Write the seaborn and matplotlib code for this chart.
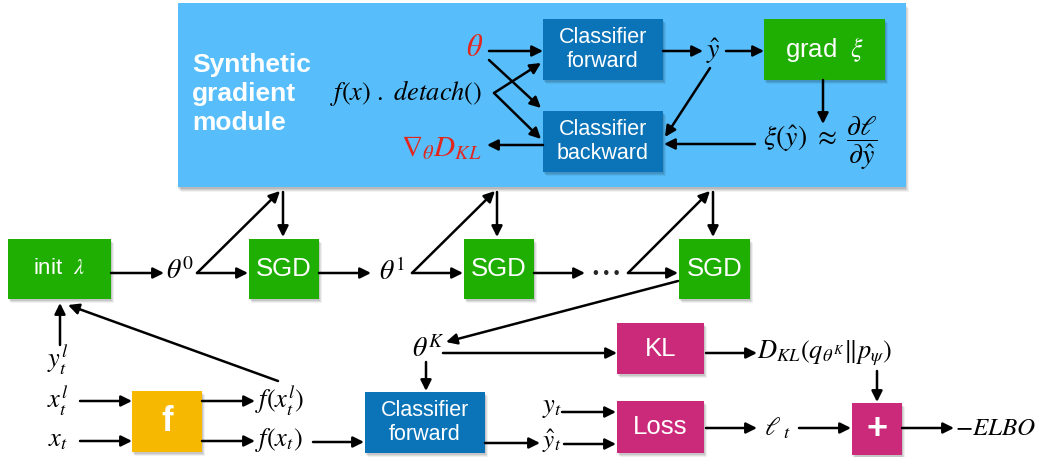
import matplotlib
matplotlib.use("Agg")
import matplotlib.pyplot as plt
import seaborn as sns
from matplotlib.patches import Rectangle

sns.set_style("white")
plt.rcParams['font.family'] = ['Liberation Sans', 'DejaVu Sans']
plt.rcParams['mathtext.fontset'] = 'stix'

# colours
panel_blue = '#58BEFB'
clf_blue = '#0B74B9'
green = '#1FAF02'
orange = '#F6B800'
magenta = '#CB2A7A'
red = '#E2261D'

# labels
module_title = "Synthetic\ngradient\nmodule"
clf_top = ["Classifier\nforward", "Classifier\nbackward"]
sgd_labels = ["SGD", "SGD", "SGD"]
theta_labels = [r'$\theta^0$', r'$\theta^1$', r'$\theta^K$']
input_labels = [r'$y_t^l$', r'$x_t^l$', r'$x_t$']
feat_labels = [r'$f(x_t^l)$', r'$f(x_t)$']
loss_inputs = [r'$y_t$', r'$\hat{y}_t$']

fig = plt.figure(figsize=(10.48, 4.57), dpi=100)
ax = fig.add_axes([0, 0, 1, 1])
ax.set_xlim(0, 1048)
ax.set_ylim(457, 0)
ax.axis('off')


def box(x0, y0, x1, y1, color, label, fs, weight='normal', shadow=True):
    if shadow:
        for d, a in [(4, 0.06), (3, 0.08), (2, 0.10)]:
            ax.add_patch(Rectangle((x0 + d - 1, y0 + d), x1 - x0, y1 - y0,
                                   facecolor='black', alpha=a, lw=0, zorder=1))
    ax.add_patch(Rectangle((x0, y0), x1 - x0, y1 - y0, facecolor=color,
                           lw=0, zorder=2))
    ax.text((x0 + x1) / 2, (y0 + y1) / 2, label, color='white', fontsize=fs,
            ha='center', va='center', weight=weight, zorder=3,
            linespacing=1.15)


def arrow(x0, y0, x1, y1):
    ax.annotate('', xy=(x1, y1), xytext=(x0, y0), zorder=4,
                arrowprops=dict(arrowstyle='-|>', color='black', lw=1.8,
                                mutation_scale=16, shrinkA=0, shrinkB=0))


def label(x, y, s, fs=18, color='black', ha='left'):
    ax.text(x, y, s, fontsize=fs, color=color, ha=ha, va='center', zorder=5)


# synthetic gradient panel
for d, a in [(5, 0.05), (4, 0.07), (3, 0.08), (2, 0.10)]:
    ax.add_patch(Rectangle((178 + d - 2, 3 + d), 728, 184, facecolor='black',
                           alpha=a, lw=0, zorder=0))
ax.add_patch(Rectangle((178, 3), 728, 184, facecolor=panel_blue, lw=0,
                       zorder=0.5))
ax.text(192, 94, module_title, color='white', fontsize=19, weight='bold',
        ha='left', va='center', linespacing=1.25)

box(543, 19, 663, 80, clf_blue, clf_top[0], 15.5)
box(543, 111, 663, 172, clf_blue, clf_top[1], 15.5)
box(764, 19, 885, 80, green, r'grad  $\xi$', 18.5)

label(483, 48, r'$\theta$', 22, red, 'right')
label(482, 93, r'$f(x)\ .\ detach()$', 19, 'black', 'right')
label(482, 148, r'$\nabla_{\theta}D_{KL}$', 21, red, 'right')
label(713, 51, r'$\hat{y}$', 20, 'black', 'center')
label(763, 143, r'$\xi(\hat{y})\ \approx\ \dfrac{\partial\ell}{\partial\hat{y}}$', 20)

arrow(489, 51, 543, 51)
arrow(489, 60, 541, 108)
arrow(494, 93, 541, 63)
arrow(494, 93, 541, 139)
arrow(543, 145, 487, 145)
arrow(663, 51, 703, 51)
arrow(726, 51, 764, 51)
arrow(710, 68, 665, 137)
arrow(823, 80, 823, 124)
arrow(755, 144, 664, 144)

# unrolled SGD chain
box(8, 239, 111, 299, green, r'init  $\lambda$', 16)
sgd_x = [(249, 319), (464, 534), (679, 750)]
for (a, b), s in zip(sgd_x, sgd_labels):
    box(a, 239, b, 299, green, s, 18.5)

label(180, 272, theta_labels[0], 20, ha='center')
label(392, 272, theta_labels[1], 20, ha='center')
ax.text(606, 273, '\u2022 \u2022 \u2022', fontsize=12, ha='center', va='center')

arrow(111, 273, 164, 273)
arrow(197, 273, 248, 273)
arrow(197, 273, 280, 191)
arrow(283, 192, 283, 237)
arrow(319, 273, 371, 273)
arrow(412, 273, 463, 273)
arrow(412, 273, 495, 191)
arrow(497, 192, 497, 237)
arrow(534, 273, 585, 273)
arrow(628, 273, 678, 273)
arrow(628, 273, 710, 191)
arrow(713, 192, 713, 237)

# theta^K and KL branch
label(428, 349, theta_labels[2], 20, ha='center')
arrow(678, 281, 446, 342)
arrow(443, 353, 617, 353)
box(617, 323, 704, 374, magenta, 'KL', 18.5)
arrow(706, 353, 757, 353)
label(757, 353, r'$D_{KL}(q_{\theta^K}\|p_{\psi})$', 19)
arrow(877, 371, 877, 402)

# input / feature extractor
label(58, 360, input_labels[0], 19, ha='center')
label(58, 401, input_labels[1], 19, ha='center')
label(58, 440, input_labels[2], 19, ha='center')
arrow(60, 345, 60, 303)
arrow(80, 401, 132, 401)
arrow(80, 441, 132, 441)
box(132, 391, 202, 452, orange, 'f', 25, 'bold')
arrow(202, 401, 255, 401)
arrow(202, 441, 255, 441)
label(255, 401, feat_labels[0], 19)
label(255, 440, feat_labels[1], 19)
arrow(278, 381, 68, 305)

# classifier + loss
arrow(426, 362, 426, 391)
arrow(313, 442, 364, 442)
box(365, 392, 485, 453, clf_blue, "Classifier\nforward", 15.5)
arrow(485, 443, 540, 443)
label(552, 408, loss_inputs[0], 19, ha='center')
label(552, 441, loss_inputs[1], 18, ha='center')
arrow(562, 412, 616, 412)
arrow(564, 444, 616, 444)
box(617, 401, 704, 453, magenta, 'Loss', 18.5)
arrow(706, 428, 757, 428)
label(778, 428, r'$\ell_{\ t}$', 19, ha='center')
arrow(799, 428, 851, 428)
box(852, 403, 902, 455, magenta, '+', 26, 'bold')
arrow(902, 428, 954, 428)
label(955, 428, r'$-ELBO$', 18)

fig.savefig('out.png', dpi=100)
